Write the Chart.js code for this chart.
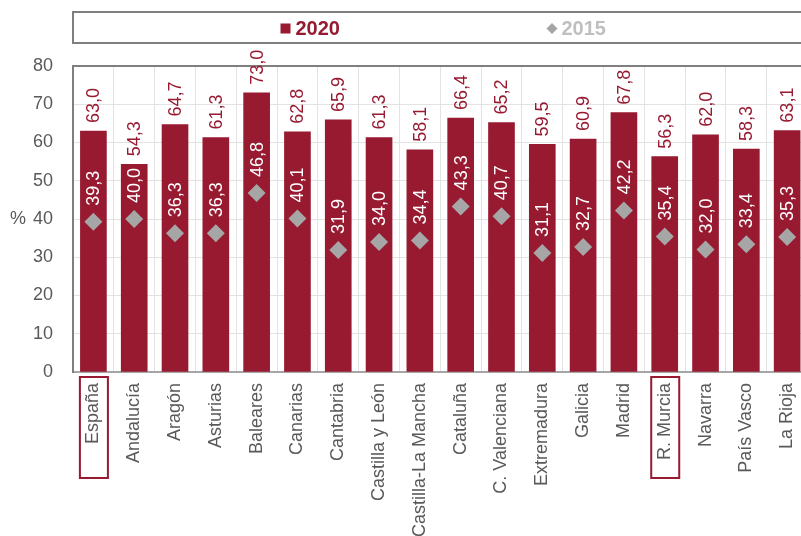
<!DOCTYPE html>
<html lang="es">
<head>
<meta charset="utf-8">
<title>2020 vs 2015 por comunidad autónoma</title>
<script src="https://cdn.jsdelivr.net/npm/chart.js@4/dist/chart.umd.min.js"></script>
<style>
  html, body { margin: 0; padding: 0; background: #ffffff; }
  #frame { width: 801px; height: 536px; overflow: hidden; position: relative; }
  canvas { display: block; }
</style>
</head>
<body>
<div id="frame"><canvas id="chart" width="820" height="536"></canvas></div>
<script>
// Categories (regions) and series values
const categories = ['España', 'Andalucía', 'Aragón', 'Asturias', 'Baleares', 'Canarias', 'Cantabria',
  'Castilla y León', 'Castilla-La Mancha', 'Cataluña', 'C. Valenciana', 'Extremadura', 'Galicia',
  'Madrid', 'R. Murcia', 'Navarra', 'País Vasco', 'La Rioja'];
const values2020 = [63.0, 54.3, 64.7, 61.3, 73.0, 62.8, 65.9, 61.3, 58.1, 66.4, 65.2, 59.5, 60.9, 67.8, 56.3, 62.0, 58.3, 63.1];
const values2015 = [39.3, 40.0, 36.3, 36.3, 46.8, 40.1, 31.9, 34.0, 34.4, 43.3, 40.7, 31.1, 32.7, 42.2, 35.4, 32.0, 33.4, 35.3];
const yTicks = [0, 10, 20, 30, 40, 50, 60, 70, 80];
const highlighted = ['España', 'R. Murcia'];
const unitLabel = '%';

const RED = '#971A31';
const GREY = '#A6A6A6';
const TEXT = '#595959';
const FONT = "'Liberation Sans', Arial, Helvetica, sans-serif";

Chart.defaults.font.family = FONT;
Chart.defaults.font.size = 18;
Chart.defaults.color = TEXT;

const fmt = v => v.toFixed(1).replace('.', ',');

// Rotated value labels above bars (2020) and above diamonds (2015)
const valueLabels = {
  id: 'valueLabels',
  afterDatasetsDraw(chart) {
    const ctx = chart.ctx;
    ctx.save();
    ctx.font = '18px ' + FONT;
    ctx.textAlign = 'left';
    ctx.textBaseline = 'middle';
    chart.data.datasets.forEach((ds, di) => {
      const meta = chart.getDatasetMeta(di);
      const gap = ds.type === 'line' ? 16 : 8;
      ctx.fillStyle = ds.type === 'line' ? '#FFFFFF' : RED;
      meta.data.forEach((el, i) => {
        ctx.save();
        ctx.translate(el.x, el.y - gap);
        ctx.rotate(-Math.PI / 2);
        ctx.fillText(fmt(ds.data[i]), 0, 1);
        ctx.restore();
      });
    });
    ctx.restore();
  }
};

// Framed legend at the top and the unit label beside the value axis
const decorations = {
  id: 'decorations',
  afterDraw(chart) {
    const ctx = chart.ctx;
    const area = chart.chartArea;
    const y = chart.scales.y;
    const x = chart.scales.x;
    ctx.save();

    // legend frame
    ctx.strokeStyle = '#7F7F7F';
    ctx.lineWidth = 2;
    ctx.strokeRect(area.left, 12, chart.width - 8 - area.left, 31);

    const midY = 28.5;
    const cx = (area.left + chart.width - 8) / 2;
    ctx.font = 'bold 20px ' + FONT;
    ctx.textBaseline = 'middle';
    ctx.textAlign = 'left';

    const ds0 = chart.data.datasets[0];
    const ds1 = chart.data.datasets[1];
    // 2020 entry
    let lx = cx - 162;
    ctx.fillStyle = ds0.backgroundColor;
    ctx.fillRect(lx, midY - 5, 10, 10);
    ctx.fillText(ds0.label, lx + 15, midY + 1);
    // 2015 entry
    lx = cx + 104;
    ctx.fillStyle = ds1.backgroundColor;
    ctx.beginPath();
    ctx.moveTo(lx, midY);
    ctx.lineTo(lx + 5.5, midY - 5.5);
    ctx.lineTo(lx + 11, midY);
    ctx.lineTo(lx + 5.5, midY + 5.5);
    ctx.closePath();
    ctx.fill();
    ctx.fillStyle = '#BFBFBF';
    ctx.fillText(ds1.label, lx + 15, midY + 1);

    // unit label
    ctx.font = '18px ' + FONT;
    ctx.fillStyle = TEXT;
    ctx.fillText(unitLabel, 10, y.getPixelForValue(40));

    // boxes around highlighted category labels
    ctx.strokeStyle = RED;
    ctx.lineWidth = 2;
    highlighted.forEach(name => {
      const idx = categories.indexOf(name);
      const px = x.getPixelForValue(idx);
      ctx.strokeRect(px - 13.5, area.bottom + 5, 28, 101);
    });
    ctx.restore();
  }
};

new Chart(document.getElementById('chart'), {
  type: 'bar',
  data: {
    labels: categories,
    datasets: [
      {
        type: 'bar',
        label: '2020',
        data: values2020,
        backgroundColor: RED,
        borderWidth: 0,
        barThickness: 26,
        order: 2
      },
      {
        type: 'line',
        label: '2015',
        data: values2015,
        showLine: false,
        pointStyle: 'rectRot',
        pointRadius: 9,
        pointHoverRadius: 9,
        backgroundColor: GREY,
        borderColor: GREY,
        pointBorderWidth: 0,
        order: 1
      }
    ]
  },
  options: {
    responsive: false,
    animation: false,
    layout: { padding: { top: 66, right: 9, left: 0, bottom: 0 } },
    plugins: {
      legend: { display: false },
      tooltip: { enabled: false }
    },
    scales: {
      x: {
        offset: true,
        grid: { display: true, offset: true, color: '#E3E3E3', lineWidth: 1, drawTicks: false },
        border: { display: true, color: '#A6A6A6', width: 2 },
        ticks: {
          autoSkip: false,
          minRotation: 90,
          maxRotation: 90,
          padding: 11,
          color: TEXT,
          font: { size: 18 }
        },
        afterFit(scale) { scale.height = 164; }
      },
      y: {
        min: 0,
        max: 80,
        afterBuildTicks(scale) { scale.ticks = yTicks.map(v => ({ value: v })); },
        grid: {
          drawTicks: false,
          color: c => (c.tick && c.tick.value === 80 ? '#7F7F7F' : '#E3E3E3'),
          lineWidth: c => (c.tick && c.tick.value === 80 ? 2 : 1)
        },
        border: { display: true, color: '#7F7F7F', width: 2 },
        ticks: { padding: 20, color: TEXT, font: { size: 18 } },
        afterFit(scale) { scale.width = 73; }
      }
    }
  },
  plugins: [valueLabels, decorations]
});
</script>
</body>
</html>
